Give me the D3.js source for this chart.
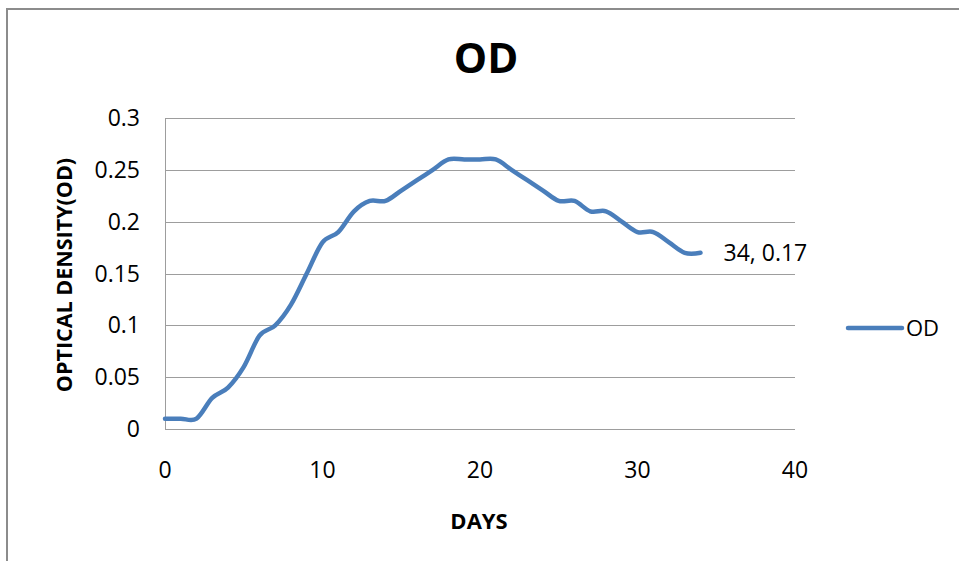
<!DOCTYPE html>
<html>
<head>
<meta charset="utf-8">
<script src="https://cdn.jsdelivr.net/npm/d3@7"></script>
<style>
  body { margin: 0; background: #fff; }
  text { font-family: "Open Sans", sans-serif; fill: #000; }
</style>
</head>
<body>
<script>
// Data: optical density by day
var days = [0, 1, 2, 3, 4, 5, 6, 7, 8, 9, 10, 11, 12, 13, 14, 15, 16, 17,
            18, 19, 20, 21, 22, 23, 24, 25, 26, 27, 28, 29, 30, 31, 32, 33, 34];
var od = [0.01, 0.01, 0.01, 0.03, 0.04, 0.06, 0.09, 0.10, 0.12, 0.15, 0.18, 0.19,
          0.21, 0.22, 0.22, 0.23, 0.24, 0.25, 0.26, 0.26, 0.26, 0.26, 0.25, 0.24,
          0.23, 0.22, 0.22, 0.21, 0.21, 0.20, 0.19, 0.19, 0.18, 0.17, 0.17];
var xTicks = [0, 10, 20, 30, 40];
var yTicks = [0, 0.05, 0.1, 0.15, 0.2, 0.25, 0.3];
var seriesName = "OD";

var width = 959, height = 561;
var margin = { top: 118, right: 164, bottom: 132, left: 165 };
var plotW = width - margin.left - margin.right;
var plotH = height - margin.top - margin.bottom;
var labelSize = "23px";

var svg = d3.select("body").append("svg")
  .attr("width", width)
  .attr("height", height);

// outer chart border
svg.append("rect")
  .attr("x", 7).attr("y", 9)
  .attr("width", width).attr("height", height)
  .attr("fill", "none")
  .attr("stroke", "#8c8c8c")
  .attr("stroke-width", 2);

var x = d3.scaleLinear().domain([0, 40]).range([0, plotW]);
var y = d3.scaleLinear().domain([0, 0.3]).range([plotH, 0]);

var g = svg.append("g")
  .attr("transform", "translate(" + margin.left + "," + margin.top + ")");

// gridlines
g.append("g")
  .selectAll("line")
  .data(yTicks)
  .join("line")
  .attr("x1", 0).attr("x2", plotW)
  .attr("y1", function(d) { return Math.round(y(d)) + 0.5; })
  .attr("y2", function(d) { return Math.round(y(d)) + 0.5; })
  .attr("stroke", "#9d9d9d")
  .attr("stroke-width", 1);

// left axis line
g.append("line")
  .attr("x1", 0.5).attr("x2", 0.5)
  .attr("y1", 0).attr("y2", plotH)
  .attr("stroke", "#9d9d9d");

// y tick labels
g.append("g")
  .selectAll("text")
  .data(yTicks)
  .join("text")
  .attr("x", -25)
  .attr("y", function(d) { return y(d); })
  .attr("dy", "0.35em")
  .attr("text-anchor", "end")
  .style("font-size", labelSize)
  .text(function(d) { return d3.format("")(d); });

// x tick labels
g.append("g")
  .selectAll("text")
  .data(xTicks)
  .join("text")
  .attr("x", function(d) { return x(d); })
  .attr("y", plotH + 41)
  .attr("dy", "0.35em")
  .attr("text-anchor", "middle")
  .style("font-size", labelSize)
  .text(function(d) { return d; });

// series line (smoothed)
var points = days.map(function(d, i) { return [d, od[i]]; });
var line = d3.line()
  .x(function(d) { return x(d[0]); })
  .y(function(d) { return y(d[1]); })
  .curve(d3.curveCardinal.tension(0));

g.append("path")
  .datum(points)
  .attr("d", line)
  .attr("fill", "none")
  .attr("stroke", "#4a7ebb")
  .attr("stroke-width", 4.5)
  .attr("stroke-linecap", "round")
  .attr("stroke-linejoin", "round");

// data label on last point
var last = points[points.length - 1];
g.append("text")
  .attr("x", x(last[0]) + 23)
  .attr("y", y(last[1]))
  .attr("dy", "0.35em")
  .style("font-size", labelSize)
  .text(last[0] + ", " + last[1]);

// title
svg.append("text")
  .attr("x", 486)
  .attr("y", 73)
  .attr("text-anchor", "middle")
  .style("font-size", "42px")
  .style("font-weight", "bold")
  .text("OD");

// axis titles
svg.append("text")
  .attr("x", 479)
  .attr("y", 529)
  .attr("text-anchor", "middle")
  .style("font-size", "22px")
  .style("font-weight", "bold")
  .text("DAYS");

svg.append("text")
  .attr("transform", "translate(72,275) rotate(-90)")
  .attr("text-anchor", "middle")
  .style("font-size", "21.5px")
  .style("font-weight", "bold")
  .text("OPTICAL DENSITY(OD)");

// legend
var legend = svg.append("g").attr("transform", "translate(848,328)");
legend.append("line")
  .attr("x1", 0).attr("x2", 54)
  .attr("y1", 0).attr("y2", 0)
  .attr("stroke", "#4a7ebb")
  .attr("stroke-width", 4.5)
  .attr("stroke-linecap", "round");
legend.append("text")
  .attr("x", 58)
  .attr("y", 0)
  .attr("dy", "0.35em")
  .style("font-size", "22px")
  .text(seriesName);
</script>
</body>
</html>
